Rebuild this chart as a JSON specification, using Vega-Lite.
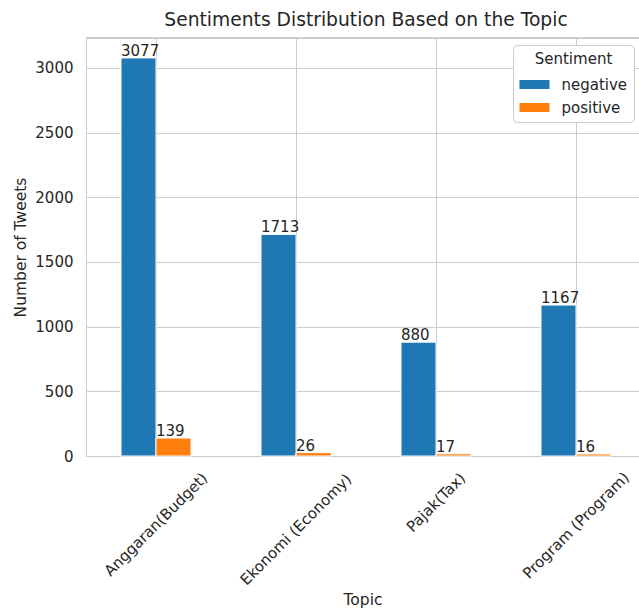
{
  "$schema": "https://vega.github.io/schema/vega-lite/v6.json",
  "width": 553,
  "height": 418,
  "autosize": {"type": "none"},
  "padding": {"left": 86, "top": 38, "right": 0, "bottom": 155},
  "background": "white",
  "title": {
    "text": "Sentiments Distribution Based on the Topic",
    "font": "DejaVu Sans",
    "fontSize": 18.7,
    "fontWeight": "normal",
    "color": "#262626",
    "anchor": "middle",
    "offset": 8,
    "dx": 3.5
  },
  "config": {
    "view": {"stroke": null},
    "font": "DejaVu Sans",
    "axis": {
      "labelFont": "DejaVu Sans",
      "labelFontSize": 15,
      "labelColor": "#262626",
      "titleFont": "DejaVu Sans",
      "titleFontSize": 15.5,
      "titleFontWeight": "normal",
      "titleColor": "#262626",
      "gridColor": "#cccccc",
      "gridWidth": 1,
      "domainColor": "#cccccc",
      "domainWidth": 1,
      "ticks": false,
      "tickSize": 0
    },
    "legend": {
      "labelFont": "DejaVu Sans",
      "titleFont": "DejaVu Sans"
    }
  },
  "data": {
    "values": [
      {"topic": "Anggaran(Budget)", "sentiment": "negative", "count": 3077},
      {"topic": "Anggaran(Budget)", "sentiment": "positive", "count": 139},
      {"topic": "Ekonomi (Economy)", "sentiment": "negative", "count": 1713},
      {"topic": "Ekonomi (Economy)", "sentiment": "positive", "count": 26},
      {"topic": "Pajak(Tax)", "sentiment": "negative", "count": 880},
      {"topic": "Pajak(Tax)", "sentiment": "positive", "count": 17},
      {"topic": "Program (Program)", "sentiment": "negative", "count": 1167},
      {"topic": "Program (Program)", "sentiment": "positive", "count": 16}
    ]
  },
  "layer": [
    {
      "mark": {"type": "bar", "stroke": "white", "strokeWidth": 1},
      "encoding": {
        "x": {
          "field": "topic",
          "type": "nominal",
          "sort": null,
          "scale": {"paddingInner": 0.5, "paddingOuter": 0.225, "align": 0.5556},
          "axis": {
            "title": "Topic",
            "labelAngle": -45,
            "labelAlign": "center",
            "labelBaseline": "middle",
            "labelPadding": {
              "condition": [
                {"test": "datum.value === 'Pajak(Tax)'", "value": 46},
                {"test": "datum.value === 'Ekonomi (Economy)'", "value": 73},
                {"test": "datum.value === 'Program (Program)'", "value": 69}
              ],
              "value": 68
            },
            "grid": true,
            "bandPosition": 0.5,
            "titlePadding": 5
          }
        },
        "xOffset": {
          "field": "sentiment",
          "type": "nominal",
          "scale": {"paddingInner": 0, "paddingOuter": 0}
        },
        "y": {
          "field": "count",
          "type": "quantitative",
          "scale": {"domain": [0, 3231], "nice": false},
          "axis": {
            "title": "Number of Tweets",
            "format": "d",
            "values": [0, 500, 1000, 1500, 2000, 2500, 3000],
            "labelPadding": 13,
            "titlePadding": 6,
            "grid": true
          }
        },
        "color": {
          "field": "sentiment",
          "type": "nominal",
          "scale": {"domain": ["negative", "positive"], "range": ["#1f77b4", "#ff7f0e"]},
          "legend": {
            "title": "Sentiment",
            "orient": "none",
            "legendX": 427,
            "legendY": 7,
            "titleAnchor": "middle",
            "titleFontSize": 15,
            "titleFontWeight": "normal",
            "titleColor": "#262626",
            "titlePadding": 3,
            "labelFontSize": 15,
            "labelColor": "#262626",
            "labelOffset": 12,
            "symbolType": "M-1,-0.3H1V0.3H-1Z",
            "symbolSize": 900,
            "symbolStrokeWidth": 0,
            "symbolOpacity": 1,
            "rowPadding": 0,
            "padding": 6.5,
            "fillColor": "white",
            "strokeColor": "#cccccc",
            "cornerRadius": 4
          }
        }
      }
    },
    {
      "mark": {
        "type": "text",
        "align": "left",
        "baseline": "alphabetic",
        "dx": -17.5,
        "dy": -2,
        "fontSize": 15,
        "color": "#262626",
        "font": "DejaVu Sans"
      },
      "encoding": {
        "x": {"field": "topic", "type": "nominal", "sort": null},
        "xOffset": {"field": "sentiment", "type": "nominal"},
        "y": {"field": "count", "type": "quantitative"},
        "text": {"field": "count", "type": "quantitative"}
      }
    },
    {
      "mark": {"type": "rule", "color": "#cccccc", "strokeWidth": 1},
      "encoding": {"y": {"datum": 3231}}
    }
  ]
}
